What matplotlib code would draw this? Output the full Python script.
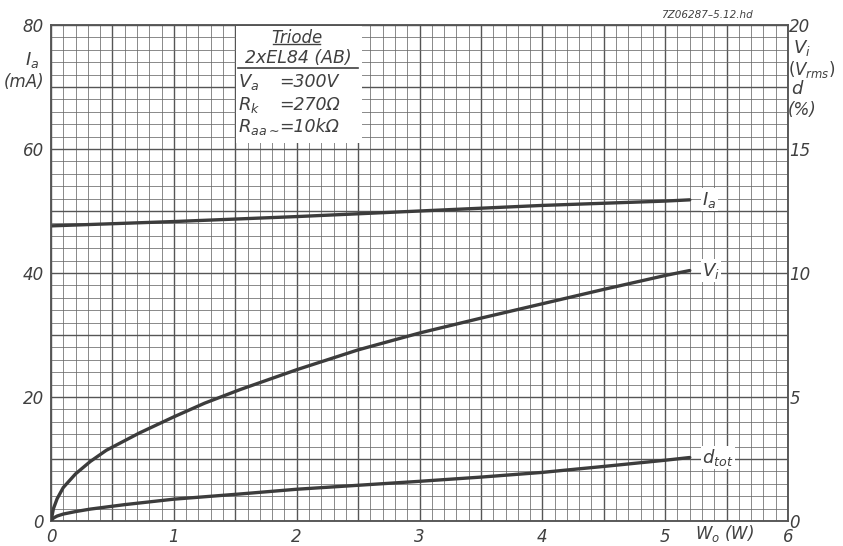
import matplotlib.pyplot as plt
from matplotlib.ticker import MultipleLocator
import numpy as np

# --------------------------------------------------------------------
# Dades llegides de la gràfica (2 x EL84 triode, classe AB)
# --------------------------------------------------------------------

# Corrent d'ànode Ia (mA), eix esquerre
wo_ia = [0, 1.0, 2.0, 3.0, 4.0, 5.0, 5.2]
ia = [47.6, 48.3, 49.1, 50.0, 50.9, 51.6, 51.8]

# Tensió d'entrada Vi (Vrms), eix dret
wo_vi = [0, 0.02, 0.05, 0.1, 0.2, 0.32, 0.45, 0.72, 1.0, 1.25, 1.54, 2.0,
         2.5, 3.0, 3.5, 4.0, 4.5, 5.0, 5.2]
vi = [0, 0.5, 0.9, 1.35, 1.9, 2.4, 2.85, 3.55, 4.2, 4.75, 5.3, 6.1,
      6.9, 7.58, 8.18, 8.76, 9.34, 9.9, 10.1]

# Distorsió total dtot (%), eix dret
wo_d = [0, 0.02, 0.05, 0.1, 0.2, 0.32, 0.6, 1.0, 1.54, 2.0, 2.5, 3.0,
        3.5, 4.0, 4.5, 5.0, 5.2]
dtot = [0, 0.12, 0.2, 0.28, 0.38, 0.48, 0.66, 0.88, 1.09, 1.28, 1.44, 1.6,
        1.77, 1.96, 2.2, 2.45, 2.56]

left_ticks = [0, 20, 40, 60, 80]
right_ticks = [0, 5, 10, 15, 20]
x_ticks = [0, 1, 2, 3, 4, 5, 6]

GRID = "#6a6a6a"
INK = "#3c3c3c"
TXT = "#404040"

plt.rcParams["mathtext.fontset"] = "dejavusans"
plt.rcParams["mathtext.default"] = "it"

fig = plt.figure(figsize=(8.43, 5.46), dpi=100)
ax = fig.add_axes([0.0605, 0.0458, 0.8743, 0.9084])
ax2 = ax.twinx()

ax.set_xlim(0, 6)
ax.set_ylim(0, 80)
ax2.set_ylim(0, 20)

# --------------------------------------------------------------------
# Paper mil·limetrat
# --------------------------------------------------------------------
ax.xaxis.set_minor_locator(MultipleLocator(0.1))
ax.yaxis.set_minor_locator(MultipleLocator(2))
ax.grid(which="major", color="#555555", lw=1.0, zorder=0)
ax.grid(which="minor", color=GRID, lw=0.55, zorder=0)
ax.set_axisbelow(True)

xt = np.arange(0, 6.01, 0.5)
ax.set_xticks(xt)
ax.set_xticklabels([f"{v:g}" if v in x_ticks else "" for v in xt])
yt = np.arange(0, 80.1, 10)
ax.set_yticks(yt)
ax.set_yticklabels([f"{v:g}" if v in left_ticks else "" for v in yt])
ax2.set_yticks(right_ticks)
ax2.set_yticklabels([str(v) for v in right_ticks])

for a in (ax, ax2):
    a.tick_params(which="both", length=0, labelsize=12, colors=TXT)
    for s in a.spines.values():
        s.set_color("#555555")
        s.set_linewidth(1.1)
ax.tick_params(axis="x", pad=5)
ax.tick_params(axis="y", pad=5)
ax2.tick_params(axis="y", pad=1)
for lab in ax.get_xticklabels() + ax.get_yticklabels() + ax2.get_yticklabels():
    lab.set_style("italic")

# --------------------------------------------------------------------
# Corbes
# --------------------------------------------------------------------
ax.plot(wo_ia, ia, color=INK, lw=2.4, solid_capstyle="round", zorder=5)
ax2.plot(wo_vi, vi, color=INK, lw=2.4, solid_capstyle="round",
         solid_joinstyle="round", zorder=5)
ax2.plot(wo_d, dtot, color=INK, lw=2.4, solid_capstyle="round",
         solid_joinstyle="round", zorder=5)

box = dict(facecolor="white", edgecolor="none", pad=1.0)
ax.text(5.3, ia[-1], r"$I_a$", fontsize=13, color=TXT, va="center", bbox=box, zorder=6)
ax2.text(5.3, vi[-1], r"$V_i$", fontsize=13, color=TXT, va="center", bbox=box, zorder=6)
ax2.text(5.3, dtot[-1], r"$d_{tot}$", fontsize=13, color=TXT, va="center", bbox=box, zorder=6)

# --------------------------------------------------------------------
# Requadre amb les condicions
# --------------------------------------------------------------------
ax.add_patch(plt.Rectangle((1.505, 61), 1.03, 18.85, facecolor="white",
                           edgecolor="none", zorder=3))
ax.text(2.0, 77.9, "Triode", fontsize=12, color=TXT, style="italic",
        ha="center", va="center", zorder=4)
ax.plot([1.81, 2.19], [76.9, 76.9], color=TXT, lw=1.0, zorder=4)
ax.text(2.01, 74.7, "2xEL84 (AB)", fontsize=12.5, color=TXT, style="italic",
        ha="center", va="center", zorder=4)
ax.plot([1.52, 2.5], [73.1, 73.1], color=TXT, lw=1.2, zorder=4)
rows = [(70.8, r"$V_a$", "=300V"), (67.1, r"$R_k$", "=270Ω"),
        (63.5, r"$R_{aa\sim}$", "=10kΩ")]
for yy, name, val in rows:
    ax.text(1.52, yy, name, fontsize=13, color=TXT, va="center", zorder=4)
    ax.text(1.86, yy, val, fontsize=12.5, color=TXT, style="italic",
            va="center", zorder=4)

# --------------------------------------------------------------------
# Etiquetes d'eixos
# --------------------------------------------------------------------
fig.text(32 / 843, 1 - 60 / 546, r"$I_a$", fontsize=13, color=TXT, ha="center", va="center")
fig.text(24 / 843, 1 - 82 / 546, "(mA)", fontsize=12, color=TXT, style="italic",
         ha="center", va="center")
fig.text(793 / 843, 1 - 48 / 546, r"$V_i$", fontsize=13, color=TXT, ha="left", va="center")
fig.text(788 / 843, 1 - 70 / 546, r"$(V_{rms})$", fontsize=12, color=TXT, ha="left", va="center")
fig.text(791 / 843, 1 - 89 / 546, r"$d$", fontsize=13, color=TXT, ha="left", va="center")
fig.text(788 / 843, 1 - 110 / 546, "(%)", fontsize=12, color=TXT, style="italic",
         ha="left", va="center")
fig.text(725 / 843, 1 - 533 / 546, r"$W_o$ (W)", fontsize=12, color=TXT, style="italic",
         ha="center", va="center")
fig.text(707 / 843, 1 - 15 / 546, "7Z06287–5.12.hd", fontsize=7.5, color=TXT,
         style="italic", ha="center", va="center")

fig.savefig("out.png", dpi=100, facecolor="white")
